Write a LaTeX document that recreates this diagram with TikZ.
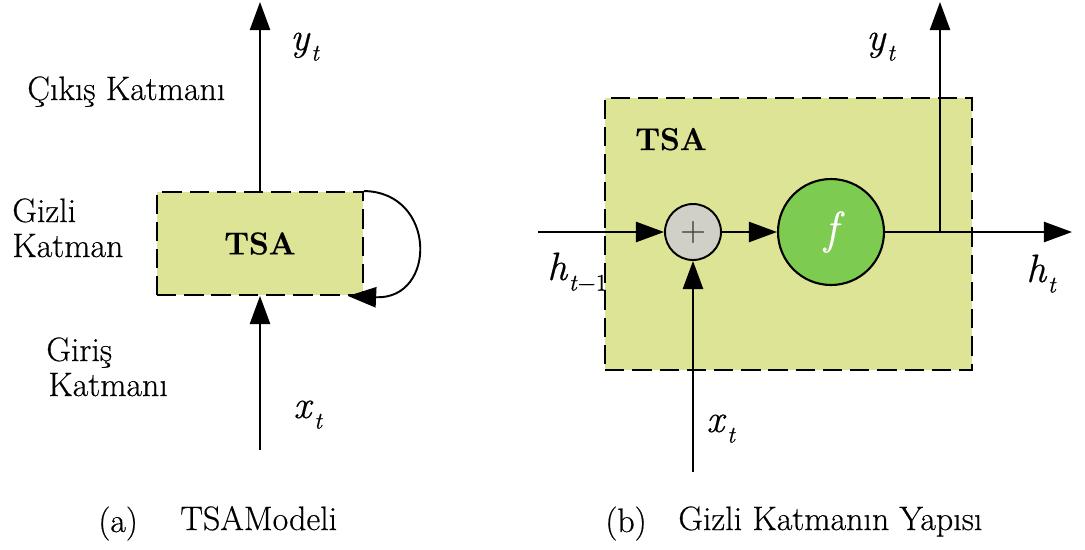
\documentclass[tikz,border=0pt]{standalone}
\usepackage{fontspec}
\setmainfont{Latin Modern Roman}[FakeBold=0.45]
\usetikzlibrary{arrows.meta}
\definecolor{boxfill}{RGB}{221,228,150}
\definecolor{fgreen}{RGB}{125,203,80}
\definecolor{plusgray}{RGB}{208,208,198}
\newcommand{\mysub}[2]{{\fontsize{22.5}{22.5}\selectfont\textit{#1}}\kern0.5pt\raisebox{-6pt}{\fontsize{13.5}{13.5}\selectfont\textit{#2}}}
\begin{document}
\begin{tikzpicture}[x=0.02cm,y=-0.02cm,
  arr/.style={line width=1.1pt,-{Triangle[length=16pt,width=11.5pt]}},
  lbl/.style={inner sep=0pt,font=\fontsize{19.3}{22}\selectfont},
  mlbl/.style={inner sep=0pt},
  dbox/.style={draw,fill=boxfill,line width=1.1pt,dash pattern=on 11pt off 4.5pt,inner sep=0pt},
  bold/.style={inner sep=0pt,font=\fontsize{18}{22}\selectfont\bfseries}]
\useasboundingbox (0,0) rectangle (1085,549);

% ---------- (a) ----------
\node[dbox,minimum width=4.12cm,minimum height=2.06cm,font=\fontsize{18}{22}\selectfont\bfseries] (boxL) at (260,243.5) {TSA};
\coordinate (ytopL) at (260,2);
\coordinate (xbotL) at (260,450);
\coordinate (loopEnd) at (348,296);
\draw[arr] (boxL.north) -- (ytopL);
\draw[arr] (xbotL) -- (boxL.south);
\draw[arr] (boxL.north east) .. controls (437,192) and (437,300) .. (loopEnd);

\node[mlbl,anchor=base west] (ytL) at (290,50) {\mysub{y}{t}};
\node[mlbl,anchor=base west] (xtL) at (293,418) {\mysub{x}{t}};
\node[lbl,anchor=base west] (cikis) at (27,100) {Çıkış Katmanı};
\node[lbl,anchor=base west] (gizli1) at (12,222) {Gizli};
\node[lbl,anchor=base west] (gizli2) at (12,257) {Katman};
\node[lbl,anchor=base west] (giris1) at (46,361) {Giriş};
\node[lbl,anchor=base west] (giris2) at (48,396) {Katmanı};

\node[lbl,anchor=base west] (capA1) at (98,532) {(a)};
\node[lbl,anchor=base west] (capA2) at (180,530) {TSAModeli};

% ---------- (b) ----------
\node[dbox,minimum width=7.34cm,minimum height=5.44cm] (boxR) at (788.5,234) {};
\node[bold,anchor=base west] (tsaR) at (635,150) {TSA};
\node[draw,circle,fill=plusgray,line width=1.1pt,minimum size=1.12cm,inner sep=0pt,text=black!75,font=\fontsize{20}{20}\selectfont] (plus) at (693,232) {+};
\node[draw,circle,fill=fgreen,line width=1.2pt,minimum size=2.12cm,inner sep=0pt,text=white,font=\fontsize{26}{26}\selectfont\itshape] (f) at (831,232) {f};

\coordinate (hin) at (538,232);
\coordinate (hout) at (1072,232);
\coordinate (br) at (940,232);
\coordinate (ytopR) at (940,2);
\coordinate (xin) at (693,472);
\draw[arr] (hin) -- (plus.west);
\draw[arr] (plus.east) -- (f.west);
\draw[arr] (f.east) -- (hout);
\draw[arr] (br) -- (ytopR);
\draw[arr] (xin) -- (plus.south);

\node[mlbl,anchor=base west] (ytR) at (866,50) {\mysub{y}{t}};
\node[mlbl,anchor=base west] (htm) at (547,280) {\mysub{h}{t\textup{−1}}};
\node[mlbl,anchor=base west] (ht) at (1026,282) {\mysub{h}{t}};
\node[mlbl,anchor=base west] (xtR) at (706,432) {\mysub{x}{t}};

\node[lbl,anchor=base west] (capB1) at (605,532) {(b)};
\node[lbl,anchor=base west] (capB2) at (678,530) {Gizli Katmanın Yapısı};
\end{tikzpicture}
\end{document}
